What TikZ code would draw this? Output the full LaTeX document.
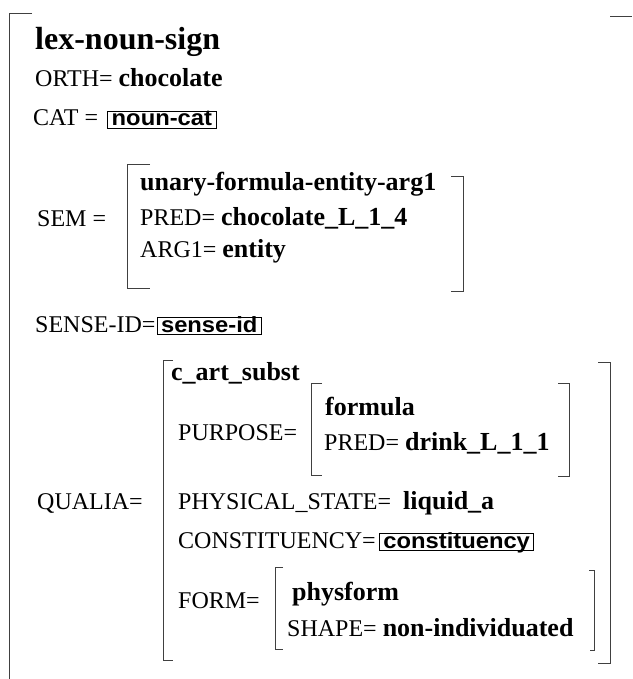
\documentclass[tikz,border=0pt]{standalone}
\usepackage{fontspec}
\setmainfont{Liberation Serif}
\newfontfamily\sortfont{Liberation Sans}[FakeStretch=1.08]
\usetikzlibrary{positioning}

% bold atomic values are set a little larger than the feature names
\newcommand{\fval}[1]{{\fontsize{26}{30}\selectfont\bfseries #1}}

\begin{document}
\begin{tikzpicture}[x=1pt, y=-1pt,
    brk/.style={line width=0.9pt, black!75},
    feat/.style={anchor=base west, inner sep=0pt, font=\fontsize{24}{29}\selectfont},
    ftype/.style={feat, font=\fontsize{26}{30}\selectfont\bfseries},
    signtype/.style={feat, font=\fontsize{32}{36}\selectfont\bfseries},
    sortbox/.style={draw, line width=0.9pt, inner xsep=4pt, inner ysep=0pt,
        text height=15pt, text depth=2.5pt, font=\fontsize{22}{26}\selectfont\sortfont\bfseries},
  ]
  \useasboundingbox (0,0) rectangle (632,679);

  % outer sign
  \draw[brk] (32,13) -- (9,13) -- (9,679);
  \draw[brk] (610,16) -- (632,16);
  \node[signtype] (sign) at (35,50) {lex-noun-sign};
  \node[feat] (orth) at (35,87) {ORTH= \fval{chocolate}};
  \node[feat] (cat) at (33,126) {CAT =};
  \node[sortbox, right=9pt of cat.base east, anchor=base west] (catv) {noun-cat};

  % SEM
  \node[feat] (sem) at (37,226) {SEM =};
  \draw[brk] (150,164) -- (127,164) -- (127,288) -- (150,288);
  \draw[brk] (451,176) -- (463,176) -- (463,291) -- (451,291);
  \node[ftype] (semtype) at (140,190) {unary-formula-entity-arg1};
  \node[feat] (pred) at (140,225) {PRED= \fval{chocolate\_L\_1\_4}};
  \node[feat] (arg) at (140,257) {ARG1= \fval{entity}};

  \node[feat] (sense) at (35,332) {SENSE-ID=};
  \node[sortbox, right=1pt of sense.base east, anchor=base west] (sensev) {sense-id};

  % QUALIA
  \node[feat] (qualia) at (37,509) {QUALIA=};
  \draw[brk] (173,360) -- (163,360) -- (163,660) -- (173,660);
  \draw[brk] (598,362) -- (610,362) -- (610,663) -- (598,663);
  \node[ftype] (qtype) at (171,380) {c\_art\_subst};

  \node[feat] (purp) at (178,440) {PURPOSE=};
  \draw[brk] (322,383) -- (311,383) -- (311,475) -- (322,475);
  \draw[brk] (558,383) -- (569,383) -- (569,476) -- (558,476);
  \node[ftype] (ptype) at (325,415) {formula};
  \node[feat] (ppred) at (324,450) {PRED= \fval{drink\_L\_1\_1}};

  \node[feat] (phys) at (178,509) {PHYSICAL\_STATE=\ \ \fval{liquid\_a}};
  \node[feat] (const) at (178,548) {CONSTITUENCY=};
  \node[sortbox, right=3pt of const.base east, anchor=base west] (constv) {constituency};

  \node[feat] (form) at (178,608) {FORM=};
  \draw[brk] (283,567) -- (275,567) -- (275,649) -- (283,649);
  \draw[brk] (589,570) -- (594,570) -- (594,650) -- (590,650);
  \node[ftype] (formtype) at (292,600) {physform};
  \node[feat] (shape) at (287,636) {SHAPE= \fval{non-individuated}};
\end{tikzpicture}
\end{document}
